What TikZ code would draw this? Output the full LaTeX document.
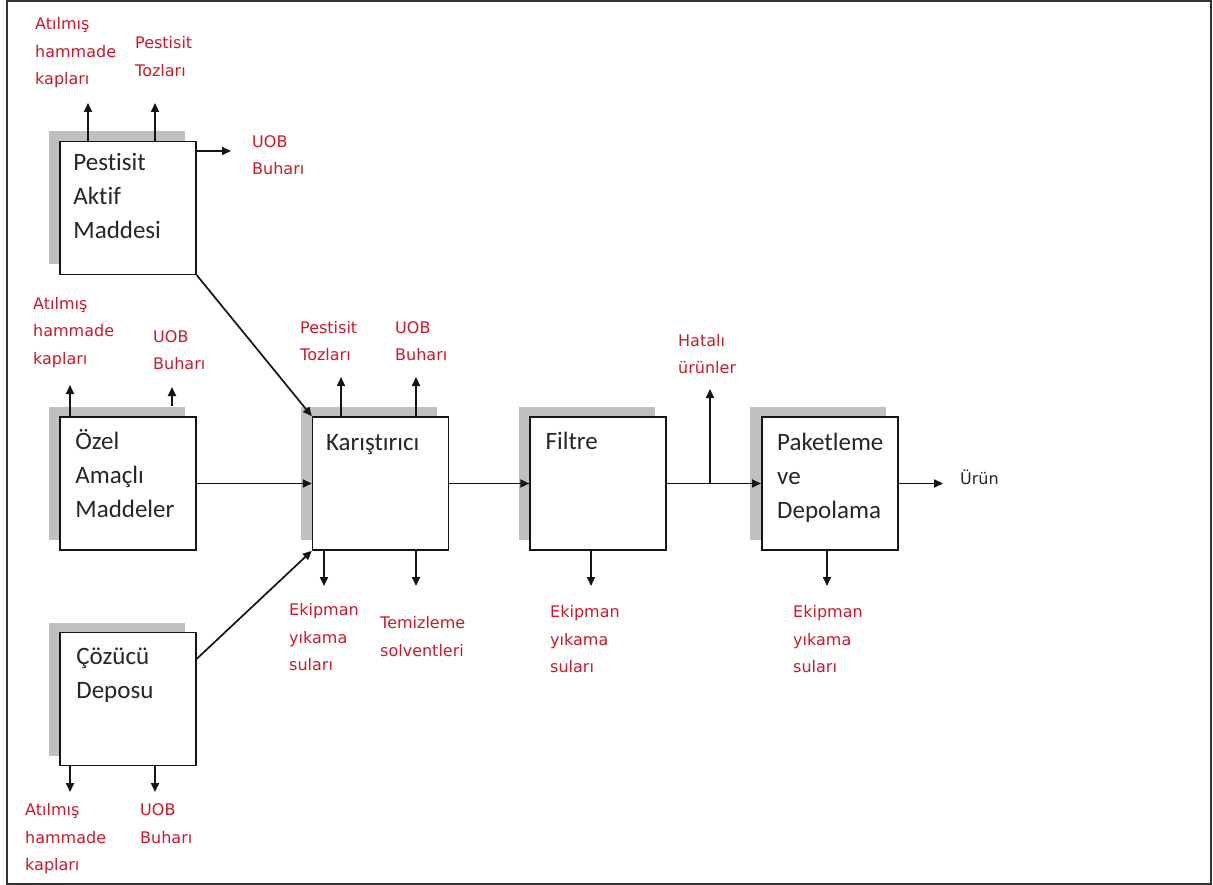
\documentclass[tikz,border=0pt]{standalone}
\usepackage{fontspec}
\setmainfont{Carlito}[Ligatures=NoCommon]
\newfontfamily\lblfont{DejaVu Sans}
\usetikzlibrary{arrows.meta, positioning, shadows}
\definecolor{wastered}{RGB}{204, 24, 40}
\definecolor{boxshade}{RGB}{192, 192, 192}
\definecolor{flowline}{RGB}{20, 20, 20}
\tikzset{
  unit/.style={draw=flowline, line width=1.6pt, fill=white, minimum width=136pt, minimum height=133pt, inner sep=0pt,
    drop shadow={shadow xshift=-11.5pt, shadow yshift=10pt, fill=boxshade, opacity=1}},
  unittxt/.style={anchor=base west, inner sep=0pt, text width=118pt, align=left, text=black!85, font=\fontsize{25}{34}\selectfont},
  waste/.style={anchor=base west, inner sep=0pt, text width=110pt, align=left, text=wastered, font=\lblfont\fontsize{16}{27.5}\selectfont},
  product/.style={waste, text=black!85},
  arr/.style={-{Triangle[length=9pt, width=8pt]}, line width=1.7pt, flowline}
}

\begin{document}
\begin{tikzpicture}[x=1pt, y=-1pt]
  \useasboundingbox (0,0) rectangle (1213,885);
  \draw[black!80, line width=2pt] (7,1.5) rectangle (1211,883.5);

  % process units
  \node[unit] (ozel) at (128,483.5) {};
  \node[unit, above=141pt of ozel] (aktif) {};
  \node[unit, below=81pt of ozel] (cozucu) {};
  \node[unit, right=115pt of ozel] (karis) {};
  \node[unit, right=80pt of karis] (filtre) {};
  \node[unit, right=94pt of filtre] (paket) {};

  \node[unittxt] (aktiftx) at ([shift={(14pt,-30pt)}]aktif.north west) {Pestisit\\Aktif\\Maddesi};
  \node[unittxt] (ozeltx) at ([shift={(16pt,-33pt)}]ozel.north west) {Özel\\Amaçlı\\Maddeler};
  \node[unittxt] (coztx) at ([shift={(17pt,-33pt)}]cozucu.north west) {Çözücü\\Deposu};
  \node[unittxt] (karistx) at ([shift={(14pt,-34pt)}]karis.north west) {Karıştırıcı};
  \node[unittxt] (filtretx) at ([shift={(16pt,-33pt)}]filtre.north west) {Filtre};
  \node[unittxt] (pakettx) at ([shift={(16pt,-34pt)}]paket.north west) {Paketleme\\ve\\Depolama};

  % outputs and losses
  \node[waste] (aktifkap) at (35,30) {Atılmış\\hammade\\kapları};
  \node[waste] (aktiftoz) at (135,49) {Pestisit\\Tozları};
  \node[waste] (aktifuob) at (252,147.5) {UOB\\Buharı};
  \node[waste] (ozelkap) at (33,309.5) {Atılmış\\hammade\\kapları};
  \node[waste] (ozeluob) at (153,342.5) {UOB\\Buharı};
  \node[waste] (karistoz) at (300,333.5) {Pestisit\\Tozları};
  \node[waste] (karisuob) at (395,333.5) {UOB\\Buharı};
  \node[waste] (kariseky) at (289,615.5) {Ekipman\\yıkama\\suları};
  \node[waste] (karissol) at (380,628.5) {Temizleme\\solventleri};
  \node[waste] (filtreeky) at (550,617.5) {Ekipman\\yıkama\\suları};
  \node[waste] (paketeky) at (793,617.5) {Ekipman\\yıkama\\suları};
  \node[waste] (hatali) at (678,346.5) {Hatalı\\ürünler};
  \node[waste] (cozkap) at (25,815.5) {Atılmış\\hammade\\kapları};
  \node[waste] (cozuob) at (140,815.5) {UOB\\Buharı};
  \node[product] (urun) at (960,484.5) {Ürün};

  % arrow ends
  \coordinate (aktifT1) at (88,103);
  \coordinate (aktifT2) at (155,103);
  \coordinate (aktifT3) at (231,151);
  \coordinate (ozelT1) at (70,385);
  \coordinate (ozelT2) at (172,387);
  \coordinate (karisT1) at (341,377);
  \coordinate (karisT2) at (416,377);
  \coordinate (karisB1) at (324,586);
  \coordinate (karisB2) at (416,586);
  \coordinate (filtreB) at (591,586);
  \coordinate (paketB) at (827,586);
  \coordinate (hataT) at (710,389);
  \coordinate (urunT) at (943,480);
  \coordinate (cozB1) at (70,792);
  \coordinate (cozB2) at (155,792);

  % main flow
  \draw[arr] (aktif.south east) -- (karis.north west);
  \draw[arr] (ozel.east) -- (karis.west);
  \draw[arr] ([yshift=-27pt]cozucu.north east) -- (karis.south west);
  \draw[arr] (karis.east) -- (filtre.west);
  \draw[arr] (filtre.east) -- (paket.west);
  \draw[arr] (filtre.east -| hataT) -- (hataT);
  \draw[arr] (paket.east) -- (paket.east -| urunT);

  % side streams
  \draw[arr] (aktif.north -| aktifT1) -- (aktifT1);
  \draw[arr] (aktif.north -| aktifT2) -- (aktifT2);
  \draw[arr] (aktif.east |- aktifT3) -- (aktifT3);
  \draw[arr] (ozel.north -| ozelT1) -- (ozelT1);
  \draw[arr] (ozel.north -| ozelT2) ++(0,-10) -- (ozelT2);
  \draw[arr] (karis.north -| karisT1) -- (karisT1);
  \draw[arr] (karis.north -| karisT2) -- (karisT2);
  \draw[arr] (karis.south -| karisB1) -- (karisB1);
  \draw[arr] (karis.south -| karisB2) -- (karisB2);
  \draw[arr] (filtre.south -| filtreB) -- (filtreB);
  \draw[arr] (paket.south -| paketB) -- (paketB);
  \draw[arr] (cozucu.south -| cozB1) -- (cozB1);
  \draw[arr] (cozucu.south -| cozB2) -- (cozB2);
\end{tikzpicture}
\end{document}
